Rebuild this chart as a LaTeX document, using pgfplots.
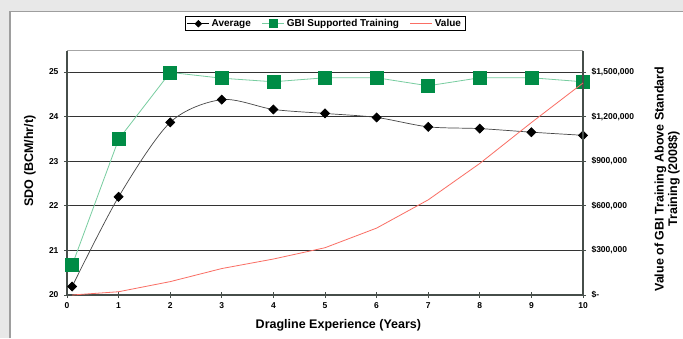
\documentclass[border=0pt]{standalone}
\usepackage{pgfplots}
\pgfplotsset{compat=1.18}
\usepackage{fontspec}
\setmainfont{Liberation Sans}
\definecolor{gbigreen}{RGB}{0,140,70}
\definecolor{gbiline}{RGB}{120,205,160}
\definecolor{valred}{RGB}{250,110,100}
\definecolor{avgline}{RGB}{70,70,70}
\definecolor{axisgray}{RGB}{70,78,74}
\begin{document}
\begin{tikzpicture}[x=1pt,y=1pt]
\useasboundingbox (0,0) rectangle (683,338);
\fill[black!9] (0,0) rectangle (683,338);
\fill[white] (10,0) rectangle (683,326.5);
\draw[black!38, line width=1.4pt] (10,0) -- (10,326.5) -- (683,326.5);
\begin{axis}[
  at={(67pt,43pt)}, anchor=south west,
  scale only axis, width=516pt, height=244pt,
  xmin=0, xmax=10, ymin=20, ymax=25.47,
  xtick={0,1,...,10}, ytick={20,21,...,25},
  ymajorgrids, grid style={black!80, line width=0.7pt},
  axis x line*=bottom, axis y line*=left,
  axis line style={axisgray, line width=1.4pt},
  tick style={axisgray, line width=0.8pt},
  tick align=center, major tick length=6pt,
  /pgf/number format/assume math mode=true,
  ticklabel style={font=\fontsize{8.5}{10}\selectfont\bfseries},
  yticklabel style={xshift=-2pt},
  xticklabel style={yshift=-1pt},
  xlabel={Dragline Experience (Years)},
  ylabel={SDO (BCM/hr/t)},
  label style={font=\fontsize{12.5}{14}\selectfont\bfseries},
  xlabel style={at={(axis description cs:0.526,-0.123)}, anchor=center},
  ylabel style={anchor=center, rotate=0},
  every axis y label/.append style={at={(axis description cs:-0.0717,0.549)}},
  legend columns=-1,
  legend style={at={(axis description cs:0.5,1)}, anchor=south, yshift=20pt,
    draw=black, line width=0.8pt, fill=white,
    font=\fontsize{10}{11}\selectfont\bfseries,
    inner xsep=2pt, inner ysep=0.5pt,
    /tikz/every even column/.append style={column sep=9pt}},
  legend image code/.code={\draw[mark repeat=2,mark phase=2] plot coordinates {(0pt,0pt) (11pt,0pt) (22pt,0pt)};},
]
\draw[black!35, line width=1pt] (rel axis cs:0,1) -- (rel axis cs:1,1);
\addplot[avgline, line width=0.7pt, smooth, tension=0.5, mark=square*, mark size=3.2pt,
  mark options={black, fill=black, rotate=45, solid}, forget plot]
  coordinates {(0.1,20.19) (1,22.2) (2,23.87) (3,24.38) (4,24.16) (5,24.07) (6,23.98) (7,23.77) (8,23.73) (9,23.65) (10,23.58)};
\addplot[gbiline, line width=0.8pt, mark=square*, mark size=6.5pt,
  mark options={gbigreen, fill=gbigreen, solid}, forget plot]
  coordinates {(0.1,20.67) (1,23.49) (2,24.99) (3,24.86) (4,24.78) (5,24.87) (6,24.87) (7,24.69) (8,24.87) (9,24.87) (10,24.78)};
\addlegendimage{black, line width=0.7pt, mark=square*, mark size=2.3pt, mark options={black, fill=black, rotate=45}}
\addlegendentry{Average}
\addlegendimage{gbiline, line width=1pt, mark=square*, mark size=3.8pt, mark options={gbigreen, fill=gbigreen}}
\addlegendentry{GBI Supported Training}
\addlegendimage{valred, line width=0.8pt}
\addlegendentry{Value}
\end{axis}
\begin{axis}[
  at={(67pt,43pt)}, anchor=south west,
  scale only axis, width=516pt, height=244pt,
  xmin=0, xmax=10, ymin=0, ymax=1641300,
  scaled y ticks=false,
  axis x line=none, axis y line*=right,
  axis line style={axisgray, line width=1.6pt},
  tick style={axisgray, line width=0.8pt},
  tick align=center, major tick length=6pt,
  ytick={0,300000,600000,900000,1200000,1500000},
  yticklabels={{\$-},{\$300,000},{\$600,000},{\$900,000},{\$1,200,000},{\$1,500,000}},
  yticklabel style={font=\fontsize{8.5}{10}\selectfont\bfseries, xshift=2pt},
  ylabel={\parbox{240pt}{\centering Value of GBI Training Above Standard\\ Training (2008\$)}},
  ylabel style={font=\fontsize{12.5}{13.5}\selectfont\bfseries},
  every axis y label/.append style={at={(axis description cs:1.163,0.475)}, anchor=center, rotate=0},
]
\addplot[valred, line width=0.8pt]
  coordinates {(0.1,0) (1,22000) (2,90000) (3,178000) (4,242000) (5,318000) (6,450000) (7,640000) (8,885000) (9,1160000) (10,1426000)};
\end{axis}
\end{tikzpicture}
\end{document}
